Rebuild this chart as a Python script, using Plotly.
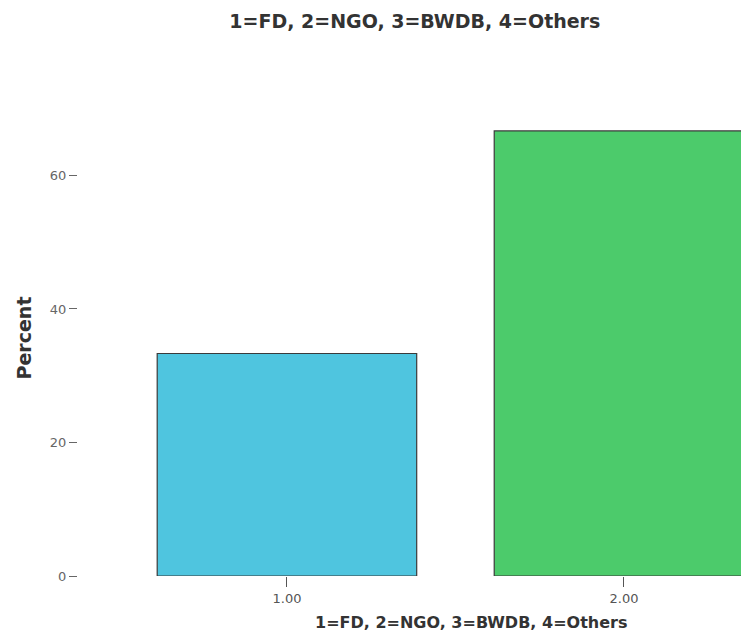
import plotly.graph_objects as go

categories = [1.0, 2.0]
tick_labels = ["1.00", "2.00"]
percent = [33.33, 66.67]
colors = ["#4fc5df", "#4ccb6b"]

BOLD = "DejaVu Sans, Liberation Sans, Arial, sans-serif"

fig = go.Figure()
fig.add_trace(go.Bar(
    x=categories, y=percent, width=0.77,
    marker=dict(color=colors, line=dict(color="#3a3a3a", width=1.2)),
    showlegend=False,
))

fig.update_layout(
    width=741, height=629,
    margin=dict(l=70, r=0, t=92, b=61),
    paper_bgcolor="white", plot_bgcolor="white",
    font=dict(family=BOLD, color="#333333"),
    title=dict(text="<b>1=FD, 2=NGO, 3=BWDB, 4=Others</b>", x=0.549, xanchor="center",
               y=0.978, yanchor="middle", font=dict(size=19, color="#333333")),
    xaxis=dict(range=[0.38, 2.371], tickvals=categories, ticktext=tick_labels,
               ticks="outside", ticklen=10, tickcolor="#555555", tickwidth=1,
               showgrid=False, zeroline=False, showline=False,
               tickfont=dict(size=13, color="#555555")),
    yaxis=dict(range=[0, 71.3], tickvals=[0, 20, 40, 60],
               ticks="outside", ticklen=8, tickcolor="#666666", tickwidth=1,
               showgrid=False, zeroline=False, showline=False,
               tickfont=dict(size=13, color="#666666"),
               title=dict(text="<b>Percent</b>", font=dict(size=19, color="#333333"), standoff=13)),
    annotations=[dict(text="<b>1=FD, 2=NGO, 3=BWDB, 4=Others</b>", xref="paper", yref="paper",
                      x=0.586, y=-0.097, xanchor="center", yanchor="middle", showarrow=False,
                      font=dict(size=16, color="#333333"))],
)

fig.write_html("out.html")
